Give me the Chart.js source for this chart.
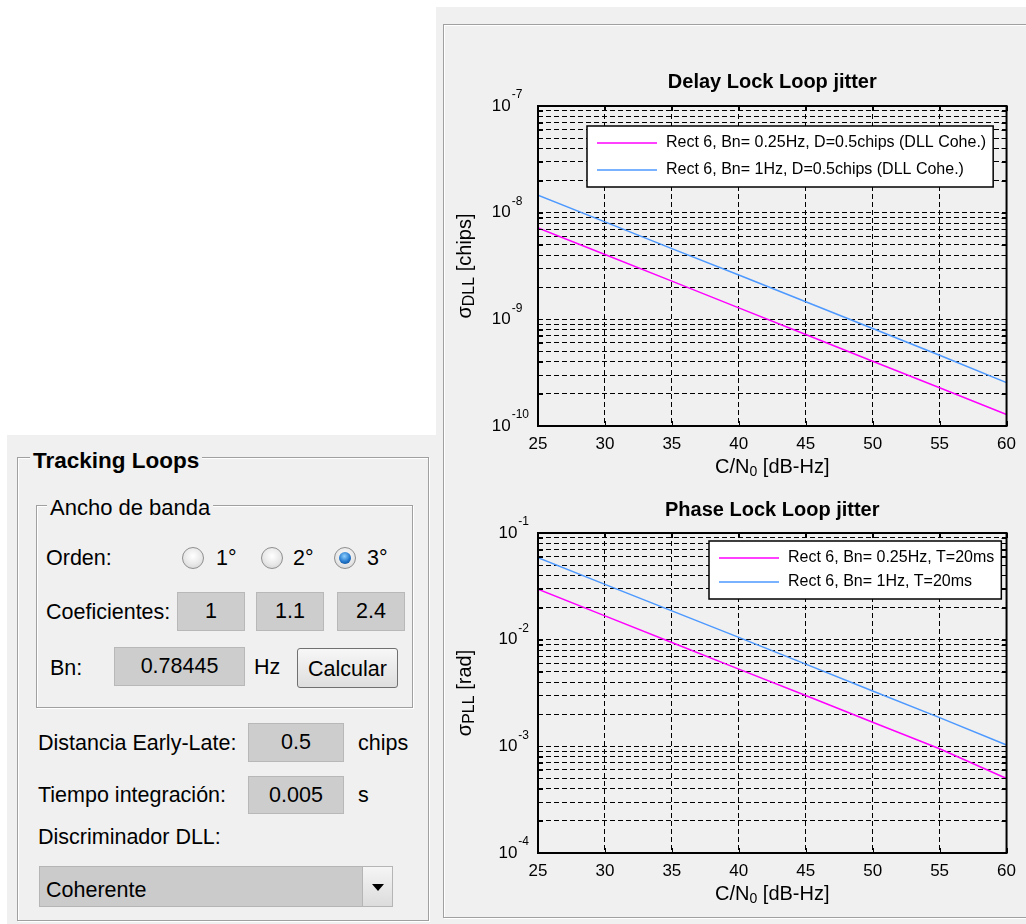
<!DOCTYPE html>
<html>
<head>
<meta charset="utf-8">
<script src="https://cdn.jsdelivr.net/npm/chart.js@4.4.1/dist/chart.umd.min.js"></script>
<style>
  body { margin: 0; background: #fff; }
  #page { position: relative; width: 1026px; height: 924px; overflow: hidden;
          font-family: 'Liberation Sans', Arial, sans-serif; color: #000; }
  .bg { position: absolute; background: #f0f0f0; }
  .frame { position: absolute; border: 1px solid #a0a0a0; box-sizing: border-box;
           box-shadow: inset 1px 1px 0 #fff, 1px 1px 0 #fff; }
  .lbl { position: absolute; font-size: 21.5px; line-height: 26px; white-space: nowrap; }
  .ttl { background: #f0f0f0; padding: 0 3px; }
  .box { position: absolute; box-sizing: border-box; background: #cdcdcd; border: 1px solid #b8b8b8;
         text-align: center; font-size: 21.5px; white-space: nowrap; }
  .radio { position: absolute; width: 22px; height: 22px; border-radius: 50%; box-sizing: border-box;
           border: 1px solid #8f8f8f;
           background: radial-gradient(circle at 50% 40%, #ffffff 0%, #e8e8e8 55%, #cdcdcd 100%); }
  .radio.on::after { content: ''; position: absolute; left: 4px; top: 4px; width: 12px; height: 12px;
           border-radius: 50%; background: radial-gradient(circle at 45% 35%, #8fd0ff 0%, #2277cc 55%, #0b3d7a 100%); }
  .btn { position: absolute; box-sizing: border-box; border: 1px solid #707070; border-radius: 3px;
         background: linear-gradient(#f7f7f7, #dedede); text-align: center; font-size: 21.5px; }
  .drop { position: absolute; box-sizing: border-box; background: #cbcbcb; border: 1px solid #b5b5b5; }
  .arrow { position: absolute; right: 0; top: 0; bottom: 0; width: 30px; box-sizing: border-box;
           border-left: 1px solid #b5b5b5; background: linear-gradient(#f5f5f5, #dcdcdc); }
  .arrow::after { content: ''; position: absolute; left: 9px; top: 17px; border-left: 6px solid transparent;
           border-right: 6px solid transparent; border-top: 7px solid #000; }
  canvas { position: absolute; }
</style>
</head>
<body>
<div id="page">
  <div class="bg" style="left:7px; top:435px; width:430px; height:489px;"></div>
  <div class="bg" style="left:436px; top:7px; width:590px; height:917px;"></div>
  <div class="frame" style="left:443px; top:24px; width:620px; height:894px;"></div>

  <!-- left panel -->
  <div class="frame" style="left:17px; top:457px; width:412px; height:464px;"></div>
  <div class="lbl ttl" style="left:30px; top:448px; font-size:22.5px; font-weight:bold;">Tracking Loops</div>
  <div class="frame" style="left:36px; top:505px; width:377px; height:203px;"></div>
  <div class="lbl ttl" style="left:47px; top:495px; font-size:22px;">Ancho de banda</div>

  <div class="lbl" style="left:46px; top:545px;">Orden:</div>
  <div class="radio" style="left:182px; top:547px;"></div>
  <div class="lbl" style="left:216px; top:545px;">1°</div>
  <div class="radio" style="left:261px; top:547px;"></div>
  <div class="lbl" style="left:293px; top:545px;">2°</div>
  <div class="radio on" style="left:334px; top:547px;"></div>
  <div class="lbl" style="left:367px; top:545px;">3°</div>

  <div class="lbl" style="left:46px; top:599px;">Coeficientes:</div>
  <div class="box" style="left:177px; top:592px; width:68px; height:39px; line-height:37px;">1</div>
  <div class="box" style="left:256px; top:592px; width:68px; height:39px; line-height:37px;">1.1</div>
  <div class="box" style="left:337px; top:592px; width:68px; height:39px; line-height:37px;">2.4</div>

  <div class="lbl" style="left:50px; top:655px;">Bn:</div>
  <div class="box" style="left:114px; top:647px; width:131px; height:39px; line-height:37px;">0.78445</div>
  <div class="lbl" style="left:254px; top:654px;">Hz</div>
  <div class="btn" style="left:297px; top:648px; width:101px; height:40px; line-height:40px;">Calcular</div>

  <div class="lbl" style="left:38px; top:730px;">Distancia Early-Late:</div>
  <div class="box" style="left:248px; top:723px; width:96px; height:39px; line-height:37px;">0.5</div>
  <div class="lbl" style="left:358px; top:730px;">chips</div>

  <div class="lbl" style="left:38px; top:782px;">Tiempo integración:</div>
  <div class="box" style="left:248px; top:776px; width:96px; height:38px; line-height:36px;">0.005</div>
  <div class="lbl" style="left:358px; top:782px;">s</div>

  <div class="lbl" style="left:38px; top:824px;">Discriminador DLL:</div>
  <div class="drop" style="left:39px; top:866px; width:354px; height:41px;"><div class="arrow"></div></div>
  <div class="lbl" style="left:46px; top:877px;">Coherente</div>

  <canvas id="dll" width="578" height="455" style="left:446px; top:28px;"></canvas>
  <canvas id="pll" width="578" height="434" style="left:446px; top:483px;"></canvas>
</div>

<script>
// C/N0 axis [dB-Hz]
const cn0 = [25, 30, 35, 40, 45, 50, 55, 60];
const xTicks = [25, 30, 35, 40, 45, 50, 55, 60];

// DLL jitter [chips]
const dllBn025 = [7.2e-9, 4.05e-9, 2.28e-9, 1.28e-9, 7.2e-10, 4.05e-10, 2.28e-10, 1.28e-10];
const dllBn1 = [1.46e-8, 8.2e-9, 4.6e-9, 2.6e-9, 1.46e-9, 8.2e-10, 4.6e-10, 2.55e-10];
const dllLabels = ['Rect 6, Bn= 0.25Hz, D=0.5chips (DLL Cohe.)', 'Rect 6, Bn= 1Hz, D=0.5chips (DLL Cohe.)'];
const dllDecades = [-10, -9, -8, -7];

// PLL jitter [rad]
const pllBn025 = [0.0297, 0.0167, 0.0094, 0.0053, 0.0030, 0.00168, 0.00095, 0.0005];
const pllBn1 = [0.0587, 0.033, 0.0186, 0.0105, 0.0059, 0.0033, 0.00186, 0.00103];
const pllLabels = ['Rect 6, Bn= 0.25Hz, T=20ms', 'Rect 6, Bn= 1Hz, T=20ms'];
const pllDecades = [-4, -3, -2, -1];

const minorSteps = [1, 2, 3, 4, 5, 6, 7, 8, 9];

const FONT = "'Liberation Sans', Arial, sans-serif";
const MAGENTA = '#ff00ff';
const BLUE = 'rgb(77,153,255)';

function logTicks(decades) {
  var out = [];
  for (var i = 0; i < decades.length - 1; i++) {
    minorSteps.forEach(function (m) { out.push(m * Math.pow(10, decades[i])); });
  }
  out.push(Math.pow(10, decades[decades.length - 1]));
  return out;
}

// draws text made of pieces [text, size, dy] (for sub/superscripts)
function drawRich(ctx, parts, x, y) {
  var w = 0;
  parts.forEach(function (p) { ctx.font = p[1] + 'px ' + FONT; w += ctx.measureText(p[0]).width; });
  var cx = x - w / 2;
  ctx.textAlign = 'left';
  parts.forEach(function (p) {
    ctx.font = p[1] + 'px ' + FONT;
    ctx.fillText(p[0], cx, y + p[2]);
    cx += ctx.measureText(p[0]).width;
  });
}

// matlab-like box, inward ticks, power-of-ten labels, axis titles and boxed legend
const matlabAxes = {
  id: 'matlabAxes',
  afterDraw: function (chart, args, o) {
    var ctx = chart.ctx, a = chart.chartArea;
    var xs = chart.scales.x, ys = chart.scales.y;
    ctx.save();
    ctx.setLineDash([]);
    ctx.strokeStyle = '#000';
    ctx.fillStyle = '#000';

    ctx.lineWidth = 1;
    ctx.beginPath();
    xs.ticks.forEach(function (t) {
      var px = Math.round(xs.getPixelForValue(t.value)) + 0.5;
      ctx.moveTo(px, a.bottom); ctx.lineTo(px, a.bottom - 5);
      ctx.moveTo(px, a.top); ctx.lineTo(px, a.top + 5);
    });
    ys.ticks.forEach(function (t) {
      var py = Math.round(ys.getPixelForValue(t.value)) + 0.5;
      ctx.moveTo(a.left, py); ctx.lineTo(a.left + 5, py);
      ctx.moveTo(a.right, py); ctx.lineTo(a.right - 5, py);
    });
    ctx.stroke();

    ctx.lineWidth = 2;
    ctx.strokeRect(a.left, a.top, a.right - a.left, a.bottom - a.top);

    // y tick labels 10^n
    ctx.textBaseline = 'middle';
    ctx.font = '12px ' + FONT;
    var expW = Math.max.apply(null, o.decades.map(function (e) { return ctx.measureText(String(e)).width; }));
    o.decades.forEach(function (e) {
      var py = ys.getPixelForValue(Math.pow(10, e));
      var rx = a.left - 10 - expW;
      ctx.font = '17px ' + FONT; ctx.textAlign = 'right';
      ctx.fillText('10', rx, py);
      ctx.font = '12px ' + FONT; ctx.textAlign = 'left';
      ctx.fillText(String(e), rx + 1, py - 11);
    });

    // x title
    drawRich(ctx, [['C/N', 20, 0], ['0', 14, 5], [' [dB-Hz]', 20, 0]], (a.left + a.right) / 2, a.bottom + 41);

    // y title
    ctx.save();
    ctx.translate(a.left - 73, (a.top + a.bottom) / 2);
    ctx.rotate(-Math.PI / 2);
    drawRich(ctx, [['σ', 20, 0], [o.ySub, 16, 5], [' [' + o.yUnit + ']', 20, 0]], 0, 0);
    ctx.restore();

    // legend
    var lg = o.legend;
    ctx.font = '16px ' + FONT;
    var tw = Math.max.apply(null, chart.data.datasets.map(function (d) { return ctx.measureText(d.label).width; }));
    var w = 79 + tw + 7, h = 34 + lg.gap;
    var lx = Math.round(a.right - lg.right - w), ly = a.top + lg.top;
    ctx.fillStyle = '#fff';
    ctx.fillRect(lx, ly, w, h);
    ctx.lineWidth = 1.5;
    ctx.strokeStyle = '#000';
    ctx.strokeRect(lx, ly, w, h);
    chart.data.datasets.forEach(function (d, i) {
      var ry = ly + 17 + i * lg.gap;
      ctx.strokeStyle = d.borderColor;
      ctx.lineWidth = d.borderWidth;
      ctx.beginPath(); ctx.moveTo(lx + 10, ry); ctx.lineTo(lx + 70, ry); ctx.stroke();
      ctx.fillStyle = '#000';
      ctx.textAlign = 'left';
      ctx.textBaseline = 'middle';
      ctx.fillText(d.label, lx + 79, ry);
    });
    ctx.restore();
  }
};

function series(label, values, color) {
  return {
    label: label,
    data: cn0.map(function (x, i) { return { x: x, y: values[i] }; }),
    borderColor: color,
    borderWidth: 1.5,
    pointRadius: 0,
    fill: false,
    tension: 0
  };
}

function jitterChart(id, title, datasets, decades, pads, xHeight, axisOpts) {
  return new Chart(document.getElementById(id), {
    type: 'line',
    data: { datasets: datasets },
    plugins: [matlabAxes],
    options: {
      responsive: false,
      animation: false,
      devicePixelRatio: 1,
      layout: { padding: { left: 0, right: 16, top: 0, bottom: 0 } },
      plugins: {
        legend: { display: false },
        tooltip: { enabled: false },
        title: {
          display: true, text: title, color: '#000', fullSize: false,
          font: { family: FONT, size: 20, weight: 'bold' },
          padding: pads
        },
        matlabAxes: axisOpts
      },
      scales: {
        x: {
          type: 'linear', min: 25, max: 60,
          afterBuildTicks: function (s) { s.ticks = xTicks.map(function (v) { return { value: v }; }); },
          afterFit: function (s) { s.height = xHeight; },
          grid: { color: '#000', lineWidth: 1, drawTicks: false },
          border: { display: false, dash: [5, 3] },
          ticks: { color: '#000', font: { family: FONT, size: 17 }, padding: 8, maxRotation: 0, autoSkip: false }
        },
        y: {
          type: 'logarithmic',
          min: Math.pow(10, decades[0]), max: Math.pow(10, decades[decades.length - 1]),
          afterBuildTicks: function (s) { s.ticks = logTicks(decades).map(function (v) { return { value: v }; }); },
          afterFit: function (s) { s.width = 92; },
          grid: { color: '#000', lineWidth: 1, drawTicks: false },
          border: { display: false, dash: [5, 3] },
          ticks: { display: false }
        }
      }
    }
  });
}

jitterChart('dll', 'Delay Lock Loop jitter',
  [series(dllLabels[0], dllBn025, MAGENTA), series(dllLabels[1], dllBn1, BLUE)],
  dllDecades, { top: 42.5, bottom: 11.5 }, 57,
  { decades: dllDecades, ySub: 'DLL', yUnit: 'chips', legend: { right: 13, top: 20, gap: 27 } });

jitterChart('pll', 'Phase Lock Loop jitter',
  [series(pllLabels[0], pllBn025, MAGENTA), series(pllLabels[1], pllBn1, BLUE)],
  pllDecades, { top: 15.5, bottom: 10.5 }, 64,
  { decades: pllDecades, ySub: 'PLL', yUnit: 'rad', legend: { right: 5, top: 8, gap: 24 } });
</script>
</body>
</html>
